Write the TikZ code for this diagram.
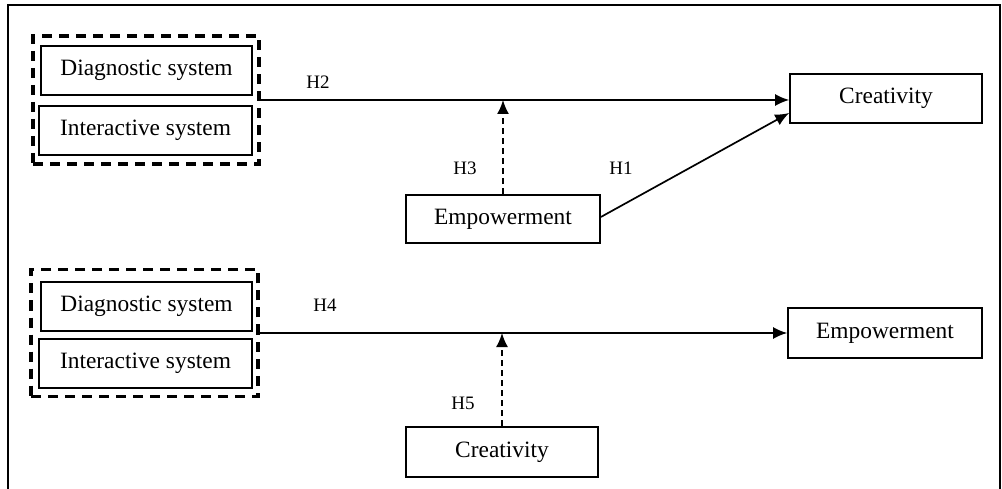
\documentclass[tikz,border=0pt]{standalone}
\usepackage{fontspec}
\setmainfont{Liberation Serif}
\usetikzlibrary{positioning,arrows.meta}
\tikzset{
  var/.style={draw,line width=1.7pt,inner sep=0pt,font=\fontsize{23.4}{28}\selectfont},
  groupbox/.style={draw,line width=3.2pt,dash pattern=on 10pt off 7pt,inner sep=0pt},
  hyp/.style={font=\fontsize{19}{23}\selectfont},
  path/.style={line width=1.7pt,-{Latex[length=14pt,width=12pt]}},
  modpath/.style={path,dash pattern=on 6pt off 4pt}
}
\begin{document}
\begin{tikzpicture}[x=1pt,y=-1pt]
\useasboundingbox (0,0) rectangle (1002,489);
\draw[line width=1.8pt](8,489)--(8,5)--(1000,5)--(1000,489);
% first model
\node[groupbox,minimum width=226pt,minimum height=128pt](grp1)at(146,100){};
\node[var,minimum width=211pt,minimum height=49pt](diag1)at(146.5,70.5){Diagnostic system};
\node[var,minimum width=213pt,minimum height=49pt](inter1)at(145.5,130.5){Interactive system};
\node[var,minimum width=192pt,minimum height=49pt](crea1)at(886,98.5){Creativity};
\node[var,minimum width=194pt,minimum height=48pt](emp1)at(503,219){Empowerment};
\coordinate(m1)at(emp1.north|-grp1.east);
\draw[path](grp1.east)--(grp1.east-|crea1.west);
\draw[modpath](emp1.north)--(m1);
\draw[path]([yshift=2pt]emp1.east)--([yshift=-14.5pt]crea1.west);
\node[hyp](h2)at(318,82){H2};
\node[hyp](h3)at(465,168){H3};
\node[hyp](h1)at(621,168){H1};
% second model
\node[groupbox,minimum width=227pt,minimum height=127pt](grp2)at(144.5,333){};
\node[var,minimum width=211pt,minimum height=49pt](diag2)at(146.5,306.5){Diagnostic system};
\node[var,minimum width=213pt,minimum height=49pt](inter2)at(145.5,363.5){Interactive system};
\node[var,minimum width=194pt,minimum height=50pt](emp2)at(885,333){Empowerment};
\node[var,minimum width=192pt,minimum height=50pt](crea2)at(502,452){Creativity};
\coordinate(m2)at(crea2.north|-grp2.east);
\draw[path](grp2.east)--(grp2.east-|emp2.west);
\draw[modpath](crea2.north)--(m2);
\node[hyp](h4)at(325,305){H4};
\node[hyp](h5)at(463,403){H5};
\end{tikzpicture}
\end{document}
